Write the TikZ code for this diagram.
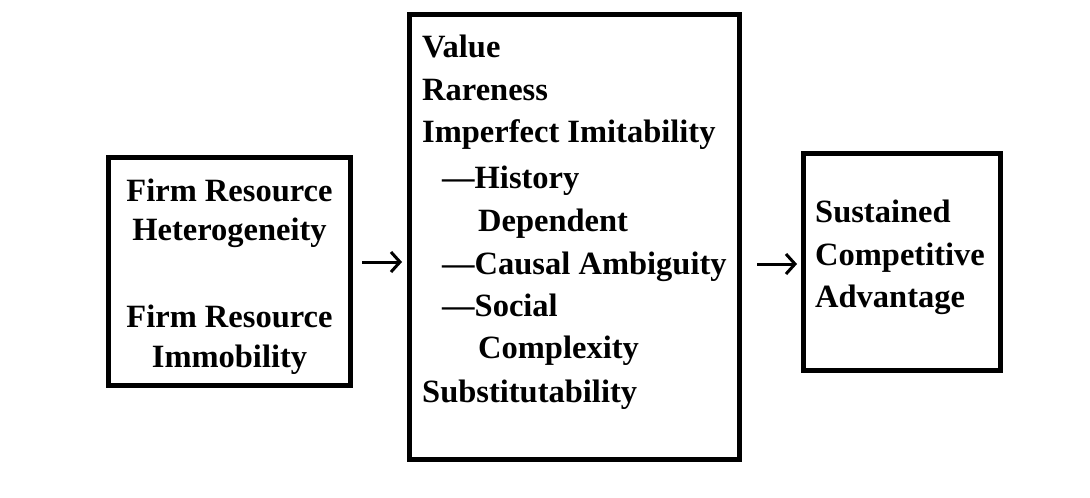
\documentclass[tikz,border=0pt]{standalone}
\usepackage{fontspec}
\setmainfont{Liberation Serif}
\usetikzlibrary{arrows.meta}
\begin{document}
\begin{tikzpicture}[x=1pt,y=-1pt,
  box/.style={draw=black,line width=5pt,rectangle,inner sep=0pt,fill=none},
  txt/.style={inner sep=0pt,font=\fontsize{32.5}{40}\selectfont\bfseries},
  arr/.style={line width=3pt,-{Straight Barb[length=9pt,width=20pt,line width=3pt]}}]
\useasboundingbox (0,0) rectangle (1090,498);
\fill[white] (0,0) rectangle (1090,498);

% the three boxes
\node[box,minimum width=242pt,minimum height=228pt] (hetero) at (229.5,271.5) {};
\node[box,minimum width=330pt,minimum height=445pt] (attrs) at (574.5,237) {};
\node[box,minimum width=197pt,minimum height=217pt] (sca) at (902,262) {};

% left box text
\node[txt,anchor=base] (t1) at (229.5,201) {Firm Resource};
\node[txt,anchor=base] (t2) at (229.5,240) {Heterogeneity};
\node[txt,anchor=base] (t3) at (229.5,327) {Firm Resource};
\node[txt,anchor=base] (t4) at (229.5,367) {Immobility};

% resource attributes
\node[txt,anchor=base west] (m1) at (422,57) {Value};
\node[txt,anchor=base west] (m2) at (422,100) {Rareness};
\node[txt,anchor=base west] (m3) at (422,142) {Imperfect Imitability};
\node[txt,anchor=base west] (m4) at (442,188) {—History};
\node[txt,anchor=base west] (m5) at (478,231) {Dependent};
\node[txt,anchor=base west] (m6) at (442,274) {—Causal Ambiguity};
\node[txt,anchor=base west] (m7) at (442,316) {—Social};
\node[txt,anchor=base west] (m8) at (478,358) {Complexity};
\node[txt,anchor=base west] (m9) at (422,402) {Substitutability};

% right box text
\node[txt,anchor=base west] (r1) at (815,222) {Sustained};
\node[txt,anchor=base west] (r2) at (815,265) {Competitive};
\node[txt,anchor=base west] (r3) at (815,307) {Advantage};

% arrows between the boxes
\coordinate (rowA) at (0,262);
\coordinate (rowB) at (0,264);
\draw[arr,shorten <=9pt,shorten >=5pt] (hetero.east |- rowA) -- (attrs.west |- rowA);
\draw[arr,shorten <=15pt,shorten >=4pt] (attrs.east |- rowB) -- (sca.west |- rowB);
\end{tikzpicture}
\end{document}
